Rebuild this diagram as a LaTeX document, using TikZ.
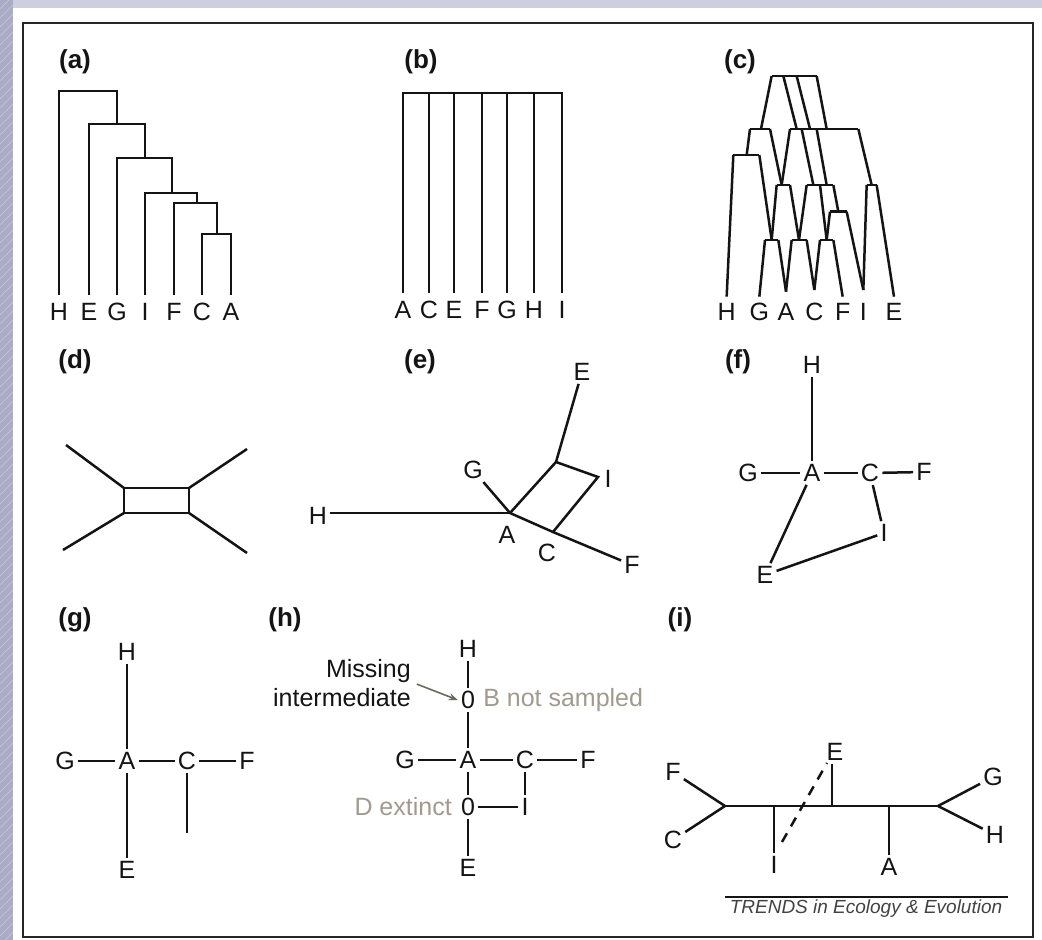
\documentclass[tikz,border=0pt]{standalone}
\usepackage{fontspec}
\setmainfont{Liberation Sans}
\usetikzlibrary{arrows.meta}
\definecolor{bgblue}{RGB}{170,172,198}
\definecolor{bgtop}{RGB}{205,206,222}
\definecolor{graytext}{RGB}{160,155,142}
\definecolor{arrowgray}{RGB}{110,105,95}
\definecolor{ink}{RGB}{20,20,20}
\begin{document}
\begin{tikzpicture}[x=1pt,y=-1pt,
  line width=2.5pt, draw=ink,
  lab/.style={font=\fontsize{25}{30}\selectfont, text=ink, inner sep=2pt},
  plab/.style={font=\fontsize{26}{30}\selectfont\bfseries, text=ink, inner sep=0pt},
  gtext/.style={font=\fontsize{25}{30}\selectfont, text=graytext, inner sep=2pt}]
\useasboundingbox (0,0) rectangle (1042,940);
% background
\fill[bgtop] (0,0) rectangle (1042,940);
\fill[bgblue] (0,0) rectangle (13,940);
\begin{scope}
\clip (0,0) rectangle (13,940);
\foreach \k in {0,9,...,960} \draw[white, opacity=0.35, line width=0.6pt] (0,\k) -- (13,\k-13);
\end{scope}
\fill[white] (13,8) rectangle (1042,940);
\draw[line width=2pt, draw=black!85] (23,23) rectangle (1033,937);

% ---------- panel labels
\node[plab] (la) at (75,62) {(a)};
\node[plab] (lb) at (421,62) {(b)};
\node[plab] (lc) at (740,62) {(c)};
\node[plab] (ld) at (75,362) {(d)};
\node[plab] (le) at (420,362) {(e)};
\node[plab] (lf) at (738,362) {(f)};
\node[plab] (lg) at (75,620) {(g)};
\node[plab] (lh) at (285,620) {(h)};
\node[plab] (li) at (680,620) {(i)};

% ---------- (a)
\foreach \n/\x in {H/59,E/89,G/117,I/145,F/174,C/202,A/231}
  \node[lab] (a\n) at (\x,312) {\n};
\draw (59,295) -- (59,91) -- (117,91) -- (117,124);
\draw (89,295) -- (89,124) -- (145,124) -- (145,158);
\draw (117,295) -- (117,158) -- (172,158) -- (172,193);
\draw (145,295) -- (145,193) -- (197,193) -- (197,203);
\draw (174,295) -- (174,203) -- (217,203) -- (217,234);
\draw (202,295) -- (202,234) -- (231,234) -- (231,295);

% ---------- (b)
\foreach \n/\x in {A/403,C/429,E/454,F/482,G/507,H/534,I/562}
  \node[lab] (b\n) at (\x,310) {\n};
\draw (403,293) -- (403,93) -- (562,93) -- (562,293);
\foreach \x in {429,454,482,507,534} \draw (\x,93) -- (\x,293);

% ---------- (c)
\foreach \n/\x in {H/726.7,G/759.3,A/786,C/814.3,F/842.7,I/863.3,E/894}
  \node[lab] (c\n) at (\x,311.7) {\n};
\begin{scope}[shift={(700,30)}, scale=1/3]
\draw (215,138) -- (350,138);
\draw (215,138) -- (183,297);
\draw (250,138) -- (290,297);
\draw (290,138) -- (330,297);
\draw (350,138) -- (380,297);
\draw (150,297) -- (210,297);
\draw (270,297) -- (475,297);
\draw (150,297) -- (140,375);
\draw (210,297) -- (245,465);
\draw (270,297) -- (245,465);
\draw (305,297) -- (340,465);
\draw (350,297) -- (380,465);
\draw (475,297) -- (515,465);
\draw (100,375) -- (178,375);
\draw (100,375) -- (80,800);
\draw (178,375) -- (215,630);
\draw (230,465) -- (270,465);
\draw (230,465) -- (215,630);
\draw (270,465) -- (297,630);
\draw (320,465) -- (400,465);
\draw (320,465) -- (297,630);
\draw (400,465) -- (415,545);
\draw (360,465) -- (380,630);
\draw (500,465) -- (530,465);
\draw (500,465) -- (490,780);
\draw (530,465) -- (582,800);
\draw (390,545) -- (440,545);
\draw (390,545) -- (380,630);
\draw (440,545) -- (490,780);
\draw (195,630) -- (235,630);
\draw (195,630) -- (178,800);
\draw (235,630) -- (258,785);
\draw (275,630) -- (320,630);
\draw (275,630) -- (258,785);
\draw (320,630) -- (343,780);
\draw (360,630) -- (400,630);
\draw (360,630) -- (343,780);
\draw (400,630) -- (428,800);
\end{scope}

% ---------- (d)
\coordinate (d1) at (124,488);
\coordinate (d2) at (189,488);
\coordinate (d3) at (189,513);
\coordinate (d4) at (124,513);
\draw (d1) -- (d2) -- (d3) -- (d4) -- cycle;
\draw (d1) -- (66,445);
\draw (d4) -- (63,550);
\draw (d2) -- (247,449);
\draw (d3) -- (247,553);

% ---------- (e)
\coordinate (eA) at (510,513);
\coordinate (eC) at (553,532);
\coordinate (eU) at (556,462);
\coordinate (eI) at (598,477);
\node[lab] (eH) at (318,516) {H};
\node[lab] (eG) at (473,470) {G};
\node[lab] (eE) at (582,372) {E};
\node[lab] (eIl) at (608,479) {I};
\node[lab] (eAl) at (507,535) {A};
\node[lab] (eCl) at (547,553) {C};
\node[lab] (eF) at (632,565) {F};
\draw (eA -| eH.east) -- (eA);
\draw (eG) -- (eA);
\draw (eA) -- (eU) -- (eI) -- (eC);
\draw (eA) -- (eC) -- (eF);
\draw (eU) -- (eE);

% ---------- (f)
\node[lab] (fH) at (812,365) {H};
\node[lab] (fG) at (748,473) {G};
\node[lab] (fA) at (812,473) {A};
\node[lab] (fC) at (870,473) {C};
\node[lab] (fF) at (924,472) {F};
\node[lab] (fE) at (765,575) {E};
\node[lab] (fI) at (884,533) {I};
\draw (fH) -- (fA);
\draw (fG) -- (fA);
\draw (fA) -- (fC);
\draw (fC) -- (fF);
\draw (fA) -- (fE);
\draw (fC) -- (fI);
\draw (fE) -- (fI);

% ---------- (g)
\node[lab] (gH) at (127,652) {H};
\node[lab] (gA) at (127,761) {A};
\node[lab] (gG) at (65,761) {G};
\node[lab] (gC) at (187,761) {C};
\node[lab] (gF) at (247,761) {F};
\node[lab] (gE) at (127,870) {E};
\coordinate (gX) at (187,833);
\draw (gH) -- (gA);
\draw (gG) -- (gA);
\draw (gA) -- (gC);
\draw (gC) -- (gF);
\draw (gA) -- (gE);
\draw (gC) -- (gX);

% ---------- (h)
\node[lab] (hH) at (468,649) {H};
\node[lab] (hB) at (468,700) {0};
\node[lab] (hA) at (468,760) {A};
\node[lab] (hG) at (405,760) {G};
\node[lab] (hC) at (525,760) {C};
\node[lab] (hF) at (588,760) {F};
\node[lab] (hD) at (468,807) {0};
\node[lab] (hI) at (525,807) {I};
\node[lab] (hE) at (468,868) {E};
\node[gtext, anchor=west] (hBt) at (480,700) {B not sampled};
\node[gtext, anchor=east] (hDt) at (455,807) {D extinct};
\node[lab, anchor=east, align=right, font=\fontsize{25}{29}\selectfont] (hM) at (414,683) {Missing\\intermediate};
\draw (hH) -- (hB);
\draw (hB) -- (hA);
\draw (hG) -- (hA);
\draw (hA) -- (hC);
\draw (hC) -- (hF);
\draw (hA) -- (hD);
\draw (hD) -- (hI);
\draw (hC) -- (hI);
\draw (hD) -- (hE);
\draw[draw=arrowgray, line width=1.6pt, -{Stealth[length=9pt,width=7pt]}, shorten <=3pt] (hM.east) -- (hB.west);

% ---------- (i)
\coordinate (iL) at (725,806);
\coordinate (iR) at (938,806);
\coordinate (iI) at (774,806);
\coordinate (iE) at (832,806);
\coordinate (iA) at (889,806);
\node[lab] (iF) at (673,772) {F};
\node[lab] (iC) at (673,840) {C};
\node[lab] (iIl) at (774,865) {I};
\node[lab] (iEl) at (835,752) {E};
\node[lab] (iAl) at (889,867) {A};
\node[lab] (iG) at (993,777) {G};
\node[lab] (iH) at (995,835) {H};
\coordinate (iD1) at (782,842);
\coordinate (iD2) at (827,763);
\draw (iL) -- (iR);
\draw (iL) -- (iF);
\draw (iL) -- (iC);
\draw (iR) -- (iG);
\draw (iR) -- (iH);
\draw (iI) -- (iI |- iIl.north);
\draw (iE) -- (iE |- iEl.south);
\draw (iA) -- (iA |- iAl.north);
\draw[dash pattern=on 10pt off 8pt] (iD1) -- (iD2);

% ---------- credit
\coordinate (t1) at (725,897);
\coordinate (t2) at (1008,897);
\draw[line width=1.5pt] (t1) -- (t2);
\node[font=\fontsize{19}{22}\selectfont\itshape, text=ink!80, inner sep=0pt] (tr) at (866,909) {TRENDS in Ecology \& Evolution};
\end{tikzpicture}
\end{document}
